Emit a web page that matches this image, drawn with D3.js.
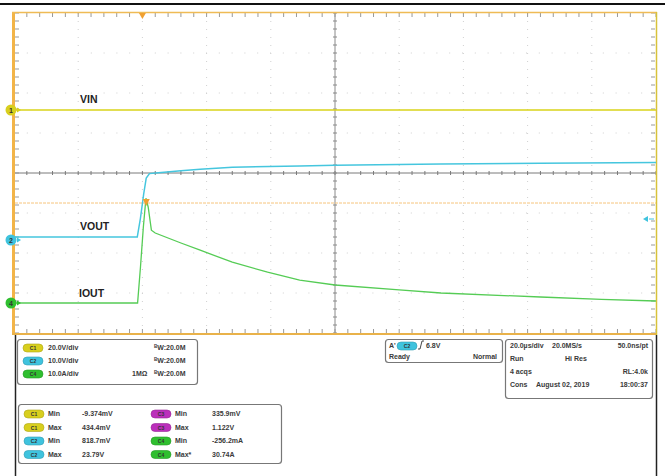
<!DOCTYPE html>
<html><head><meta charset="utf-8">
<script src="https://cdn.jsdelivr.net/npm/d3@7"></script>
<style>
body{margin:0;background:#fff}
svg{display:block}
text{font-family:"Liberation Sans",Arial,sans-serif;font-weight:bold;fill:#3a3a3a}
</style>
</head><body>
<svg id="c" width="668" height="476"></svg>
<script>
// ---------- data (time in µs relative to trigger) ----------
const vinTime  = [-40, 160];
const vinVolts = [0, 0];

const voutTime  = [-40, -1.6, -0.6, 0.4, 1.2, 2.2, 5, 12, 18, 28, 49, 60, 93, 124, 160];
const voutVolts = [0.75, 0.75, 5.5, 11.5, 15.5, 16.6, 16.8, 17.3, 17.7, 18.2, 18.5, 18.7, 19.0, 19.2, 19.4];

const ioutTime = [-40, -1.5, -0.6, 0.3, 1.1, 1.8, 2.8, 4, 12, 18, 28, 39, 49, 60, 80, 93, 124, 143, 160];
const ioutAmps = [0, 0, 9, 19, 26.2, 24, 18.2, 17.5, 15, 13.2, 10.2, 7.7, 5.7, 4.5, 3.3, 2.5, 1.5, 0.9, 0.5];

const timeDomain = [-40, 160];     // 20 µs/div, 10 div
const divDomain  = [-4, 4];        // 8 vertical divisions
const ch1Scale = 20, ch2Scale = 10, ch4Scale = 10;     // per div
const ch1Offset = 1.575, ch2Offset = -1.675, ch4Offset = -3.25; // div
const trigLevelDiv = -0.75;

const traceLabels = [["VIN", 80, 103], ["VOUT", 80, 230], ["IOUT", 79, 297]];

const scaleRows = [["C1", "20.0V/div", ""], ["C2", "10.0V/div", ""], ["C4", "10.0A/div", "1MΩ"]];
const measLeft  = [["C1", "Min", "-9.374mV"], ["C1", "Max", "434.4mV"], ["C2", "Min", "818.7mV"], ["C2", "Max", "23.79V"]];
const measRight = [["C3", "Min", "335.9mV"], ["C3", "Max", "1.122V"], ["C4", "Min", "-256.2mA"], ["C4", "Max*", "30.74A"]];
const timeRows = [["20.0µs/div", "20.0MS/s", "50.0ns/pt"], ["Run", "Hi Res", ""], ["4 acqs", "", "RL:4.0k"], ["Cons", "August 02, 2019", "18:00:37"]];

const chColor = {C1: "#d8cf1e", C2: "#3fc3de", C3: "#bb2fbb", C4: "#2fbf2f"};
const traceColor = {C1: "#d9d318", C2: "#45c6de", C4: "#55cc55"};

// ---------- scales ----------
const svg = d3.select("#c");
const x = d3.scaleLinear().domain(timeDomain).range([14, 656]);
const y = d3.scaleLinear().domain(divDomain).range([333, 13]);
const yc = (scale, off) => v => y(v / scale + off);

// top black bar
svg.append("line").attr("x1", 0).attr("x2", 665).attr("y1", 4).attr("y2", 4)
  .attr("stroke", "#111").attr("stroke-width", 2);

// ---------- graticule ----------
const g = svg.append("g");
const majorT = d3.range(timeDomain[0], timeDomain[1] + 0.01, 20);
const majorD = d3.range(divDomain[0], divDomain[1] + 0.01, 1);
const minorT = d3.range(timeDomain[0], timeDomain[1] + 0.01, 4);
const minorD = d3.range(divDomain[0], divDomain[1] + 0.01, 0.2);

// dotted grid
g.selectAll(".vg").data(majorT.filter(t => t !== 60 && t > -40 && t < 160)).join("line")
  .attr("x1", d => x(d)).attr("x2", d => x(d)).attr("y1", 13).attr("y2", 333)
  .attr("stroke", "#d0d0d0").attr("stroke-width", 1).attr("stroke-dasharray", "1,7");
g.selectAll(".hg").data(majorD.filter(d => d !== 0 && d > -4 && d < 4)).join("line")
  .attr("x1", 14).attr("x2", 656).attr("y1", d => y(d)).attr("y2", d => y(d))
  .attr("stroke", "#d0d0d0").attr("stroke-width", 1).attr("stroke-dasharray", "1,11.8");

// center lines
g.append("line").attr("x1", 14).attr("x2", 656).attr("y1", y(0)).attr("y2", y(0))
  .attr("stroke", "#7a7a7a").attr("stroke-width", 1);
g.append("line").attr("x1", x(60)).attr("x2", x(60)).attr("y1", 13).attr("y2", 333)
  .attr("stroke", "#8a8a8a").attr("stroke-width", 1);
// ticks on center lines
g.selectAll(".ct").data(minorT).join("line")
  .attr("x1", d => x(d)).attr("x2", d => x(d)).attr("y1", y(0) - 2).attr("y2", y(0) + 2)
  .attr("stroke", "#7a7a7a");
g.selectAll(".cv").data(minorD).join("line")
  .attr("y1", d => y(d)).attr("y2", d => y(d)).attr("x1", x(60) - 2).attr("x2", x(60) + 2)
  .attr("stroke", "#8a8a8a");
// edge ticks
g.selectAll(".tt").data(minorT).join("line")
  .attr("x1", d => x(d)).attr("x2", d => x(d)).attr("y1", 13).attr("y2", 17).attr("stroke", "#999");
g.selectAll(".bt").data(minorT).join("line")
  .attr("x1", d => x(d)).attr("x2", d => x(d)).attr("y1", 329).attr("y2", 333).attr("stroke", "#999");
g.selectAll(".lt").data(minorD).join("line")
  .attr("y1", d => y(d)).attr("y2", d => y(d)).attr("x1", 15).attr("x2", 19).attr("stroke", "#999");
g.selectAll(".rt").data(minorD).join("line")
  .attr("y1", d => y(d)).attr("y2", d => y(d)).attr("x1", 651).attr("x2", 655).attr("stroke", "#999");

// frame
g.append("rect").attr("x", 12).attr("y", 12).attr("width", 3).attr("height", 323).attr("fill", "#f2b448");
g.append("line").attr("x1", 12).attr("x2", 657).attr("y1", 12.5).attr("y2", 12.5).attr("stroke", "#efbb55").attr("stroke-width", 1.5);
g.append("line").attr("x1", 12).attr("x2", 657).attr("y1", 334).attr("y2", 334).attr("stroke", "#e9b24a").attr("stroke-width", 2);
g.append("line").attr("x1", 656.5).attr("x2", 656.5).attr("y1", 12).attr("y2", 335).attr("stroke", "#d8c23a").attr("stroke-width", 1.5);

// lower black borders
svg.append("line").attr("x1", 15.5).attr("x2", 15.5).attr("y1", 335).attr("y2", 476).attr("stroke", "#222").attr("stroke-width", 1.5);
svg.append("line").attr("x1", 656.5).attr("x2", 656.5).attr("y1", 335).attr("y2", 476).attr("stroke", "#222").attr("stroke-width", 1.5);

// trigger level line
g.append("line").attr("x1", 15).attr("x2", 656).attr("y1", y(trigLevelDiv)).attr("y2", y(trigLevelDiv))
  .attr("stroke", "#f6c47c").attr("stroke-width", 1).attr("stroke-dasharray", "3,1");

// ---------- traces ----------
const line = (ty) => d3.line().x(d => x(d[0])).y(d => ty(d[1]));
svg.append("path").datum(d3.zip(vinTime, vinVolts)).attr("d", line(yc(ch1Scale, ch1Offset)))
  .attr("fill", "none").attr("stroke", traceColor.C1).attr("stroke-width", 1.6);
svg.append("path").datum(d3.zip(voutTime, voutVolts)).attr("d", line(yc(ch2Scale, ch2Offset)))
  .attr("fill", "none").attr("stroke", traceColor.C2).attr("stroke-width", 1.5);
svg.append("path").datum(d3.zip(ioutTime, ioutAmps)).attr("d", line(yc(ch4Scale, ch4Offset)))
  .attr("fill", "none").attr("stroke", traceColor.C4).attr("stroke-width", 1.3);

// trace labels
svg.selectAll(".tl").data(traceLabels).join("text")
  .attr("x", d => d[1]).attr("y", d => d[2]).text(d => d[0])
  .style("font-size", "10.5px").style("fill", "#222");

// trigger markers
const tri = (cx, cy, w, h) => `M${cx - w / 2},${cy}L${cx + w / 2},${cy}L${cx},${cy + h}Z`;
svg.append("path").attr("d", tri(x(0), 13, 7, 6)).attr("fill", "#f0a030");
svg.append("path").attr("d", tri(x(1.2), y(trigLevelDiv) - 4, 7, 7)).attr("fill", "#f0a030");
// right-side cyan arrow
svg.append("path").attr("d", `M643,${y(-1.15)}L648,${y(-1.15) - 3}L648,${y(-1.15) + 3}Z`).attr("fill", "#3fc3de");
svg.append("line").attr("x1", 649).attr("x2", 654).attr("y1", y(-1.15)).attr("y2", y(-1.15)).attr("stroke", "#3fc3de");

// channel ground markers
const markers = [["1", "C1", yc(ch1Scale, ch1Offset)(0)], ["2", "C2", yc(ch2Scale, ch2Offset)(0)], ["4", "C4", yc(ch4Scale, ch4Offset)(0)]];
const mk = svg.selectAll(".mk").data(markers).join("g");
mk.append("circle").attr("cx", 11).attr("cy", d => d[2]).attr("r", 5.5).attr("fill", d => chColor[d[1]]);
mk.append("path").attr("d", d => `M21,${d[2]}L17,${d[2] - 2.5}L17,${d[2] + 2.5}Z`).attr("fill", d => chColor[d[1]]);
mk.append("text").attr("x", 11).attr("y", d => d[2] + 2.5).attr("text-anchor", "middle")
  .style("font-size", "7px").style("fill", "#333").text(d => d[0]);

// ---------- bottom info panels ----------
const box = (x0, y0, w, h) => svg.append("rect").attr("x", x0).attr("y", y0).attr("width", w).attr("height", h)
  .attr("rx", 3).attr("fill", "#fff").attr("stroke", "#777").attr("stroke-width", 1.2);
const badge = (sel, bx, by, ch) => {
  sel.append("rect").attr("x", bx).attr("y", by - 6).attr("width", 20).attr("height", 8).attr("rx", 4)
    .attr("fill", chColor[ch]).attr("stroke", d3.color(chColor[ch]).darker(0.6)).attr("stroke-width", 0.6);
  sel.append("text").attr("x", bx + 10).attr("y", by).attr("text-anchor", "middle")
    .style("font-size", "5px").style("fill", "#333").text(ch);
};
const fs = "7px";

// scale box
box(17.5, 339.5, 180, 45);
scaleRows.forEach((r, i) => {
  const yy = 350 + i * 13;
  badge(svg, 23, yy, r[0]);
  svg.append("text").attr("x", 48).attr("y", yy).style("font-size", fs).text(r[1]);
  if (r[2]) svg.append("text").attr("x", 132).attr("y", yy).style("font-size", fs).text(r[2]);
  const t = svg.append("text").attr("x", 154).attr("y", yy).style("font-size", fs);
  t.append("tspan").text("B").style("font-size", "4.5px").attr("dy", -2.5);
  t.append("tspan").text("W").attr("dy", 2.5);
  t.append("tspan").text(":20.0M");
});

// trigger box
box(385.5, 339.5, 117, 23);
svg.append("text").attr("x", 389).attr("y", 348).style("font-size", fs).text("A'");
badge(svg, 397, 348, "C2");
svg.append("path").attr("d", "M418,349L420,349L422,341L424,341").attr("fill", "none").attr("stroke", "#333").attr("stroke-width", 0.9);
svg.append("text").attr("x", 426).attr("y", 348).style("font-size", fs).text("6.8V");
svg.append("text").attr("x", 389).attr("y", 358.5).style("font-size", fs).text("Ready");
svg.append("text").attr("x", 497).attr("y", 358.5).attr("text-anchor", "end").style("font-size", fs).text("Normal");

// timebase box
box(505.5, 339.5, 147, 59);
timeRows.forEach((r, i) => {
  const yy = 348 + i * 13;
  svg.append("text").attr("x", 510).attr("y", yy).style("font-size", fs).text(r[0]);
  if (r[1]) svg.append("text").attr("x", i === 0 ? 552 : (i === 3 ? 536 : 565)).attr("y", yy).style("font-size", fs).text(r[1]);
  if (r[2]) svg.append("text").attr("x", 648).attr("y", yy).attr("text-anchor", "end").style("font-size", fs).text(r[2]);
});

// measurement box
box(18.5, 404.5, 263, 59);
measLeft.forEach((r, i) => {
  const yy = 416 + i * 13.5;
  badge(svg, 24, yy, r[0]);
  svg.append("text").attr("x", 48).attr("y", yy).style("font-size", fs).text(r[1]);
  svg.append("text").attr("x", 82).attr("y", yy).style("font-size", fs).text(r[2]);
});
measRight.forEach((r, i) => {
  const yy = 416 + i * 13.5;
  badge(svg, 151, yy, r[0]);
  svg.append("text").attr("x", 175).attr("y", yy).style("font-size", fs).text(r[1]);
  svg.append("text").attr("x", 212).attr("y", yy).style("font-size", fs).text(r[2]);
});
</script>
</body></html>
